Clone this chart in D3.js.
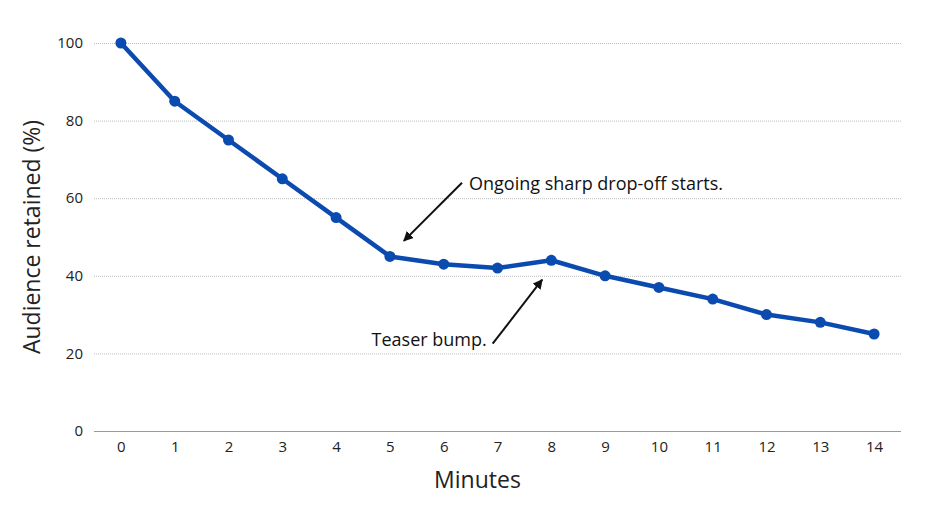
<!DOCTYPE html>
<html>
<head>
<meta charset="utf-8">
<script src="https://cdn.jsdelivr.net/npm/d3@7"></script>
<style>
  body { margin: 0; background: #fff; }
  svg { font-family: "Open Sans", "Noto Sans", sans-serif; }
</style>
</head>
<body>
<div class="chart"></div>
<script>
var minutes = ["0", "1", "2", "3", "4", "5", "6", "7", "8", "9", "10", "11", "12", "13", "14"];
var retained = [100, 85, 75, 65, 55, 45, 43, 42, 44, 40, 37, 34, 30, 28, 25];
var yTicks = [0, 20, 40, 60, 80, 100];
var notes = [
    { text: "Ongoing sharp drop-off starts.", tx: 6.47, ty: 62, anchor: "start", from: [6.34, 64], to: [5.26, 49] },
    { text: "Teaser bump.", tx: 6.8, ty: 22, anchor: "end", from: [6.91, 22.5], to: [7.83, 39] }
];

var width = 937,
    height = 505,
    margin = { top: 43, right: 36, bottom: 74, left: 94 };

var svg = d3.select(".chart")
            .append("svg")
            .attr("width", width)
            .attr("height", height);

var x = d3.scalePoint()
          .domain(minutes)
          .range([margin.left, width - margin.right])
          .padding(0.5);

// linear helper in minute units for the notes
var xNum = d3.scaleLinear()
             .domain([0, 14])
             .range([x("0"), x("14")]);

var y = d3.scaleLinear()
          .domain([0, 100])
          .range([height - margin.bottom, margin.top]);

// grid lines
svg.append("g")
   .selectAll("line")
   .data(yTicks)
   .enter()
   .append("line")
   .attr("x1", margin.left)
   .attr("x2", width - margin.right)
   .attr("y1", function (d) { return y(d) + 0.5; })
   .attr("y2", function (d) { return y(d) + 0.5; })
   .attr("stroke", function (d) { return d === 0 ? "#9a9a9a" : "#bdbdbd"; })
   .attr("stroke-width", 1)
   .attr("stroke-dasharray", function (d) { return d === 0 ? null : "1,1"; });

// y tick labels
svg.append("g")
   .selectAll("text")
   .data(yTicks)
   .enter()
   .append("text")
   .attr("x", margin.left - 11)
   .attr("y", function (d) { return y(d); })
   .attr("dy", "0.35em")
   .attr("text-anchor", "end")
   .attr("font-size", 15)
   .attr("fill", "#222")
   .text(function (d) { return d; });

// x axis labels
var xAxis = d3.axisBottom(x).tickSize(0).tickPadding(10);
var gx = svg.append("g")
            .attr("transform", "translate(0," + y(0) + ")")
            .call(xAxis);
gx.select(".domain").remove();
gx.selectAll("text")
  .attr("font-size", 15)
  .attr("font-family", "Open Sans, Noto Sans, sans-serif")
  .attr("fill", "#222");

// axis titles
svg.append("text")
   .attr("transform", "translate(40," + ((margin.top + y(0)) / 2) + ") rotate(-90)")
   .attr("text-anchor", "middle")
   .attr("font-size", 23)
   .attr("fill", "#222")
   .text("Audience retained (%)");

svg.append("text")
   .attr("x", (margin.left + width - margin.right) / 2 - 20)
   .attr("y", 488)
   .attr("text-anchor", "middle")
   .attr("font-size", 23)
   .attr("fill", "#222")
   .text("Minutes");

// line + points
var line = d3.line()
             .x(function (d, i) { return x(minutes[i]); })
             .y(function (d) { return y(d); });

svg.append("path")
   .datum(retained)
   .attr("d", line)
   .attr("fill", "none")
   .attr("stroke", "#0b4bb0")
   .attr("stroke-width", 4.5)
   .attr("stroke-linejoin", "round");

svg.append("g")
   .selectAll("circle")
   .data(retained)
   .enter()
   .append("circle")
   .attr("cx", function (d, i) { return x(minutes[i]); })
   .attr("cy", function (d) { return y(d); })
   .attr("r", 5.5)
   .attr("fill", "#0b4bb0");

// notes
svg.append("defs")
   .append("marker")
   .attr("id", "arrow")
   .attr("viewBox", "0 0 10 10")
   .attr("refX", 9)
   .attr("refY", 5)
   .attr("markerWidth", 5)
   .attr("markerHeight", 5)
   .attr("orient", "auto")
   .append("path")
   .attr("d", "M0,0 L10,5 L0,10 z")
   .attr("fill", "#111");

var note = svg.append("g")
              .selectAll("g")
              .data(notes)
              .enter()
              .append("g");

note.append("line")
    .attr("x1", function (d) { return xNum(d.from[0]); })
    .attr("y1", function (d) { return y(d.from[1]); })
    .attr("x2", function (d) { return xNum(d.to[0]); })
    .attr("y2", function (d) { return y(d.to[1]); })
    .attr("stroke", "#111")
    .attr("stroke-width", 2)
    .attr("marker-end", "url(#arrow)");

note.append("text")
    .attr("x", function (d) { return xNum(d.tx); })
    .attr("y", function (d) { return y(d.ty); })
    .attr("text-anchor", function (d) { return d.anchor; })
    .attr("font-size", 18)
    .attr("fill", "#111")
    .text(function (d) { return d.text; });
</script>
</body>
</html>
